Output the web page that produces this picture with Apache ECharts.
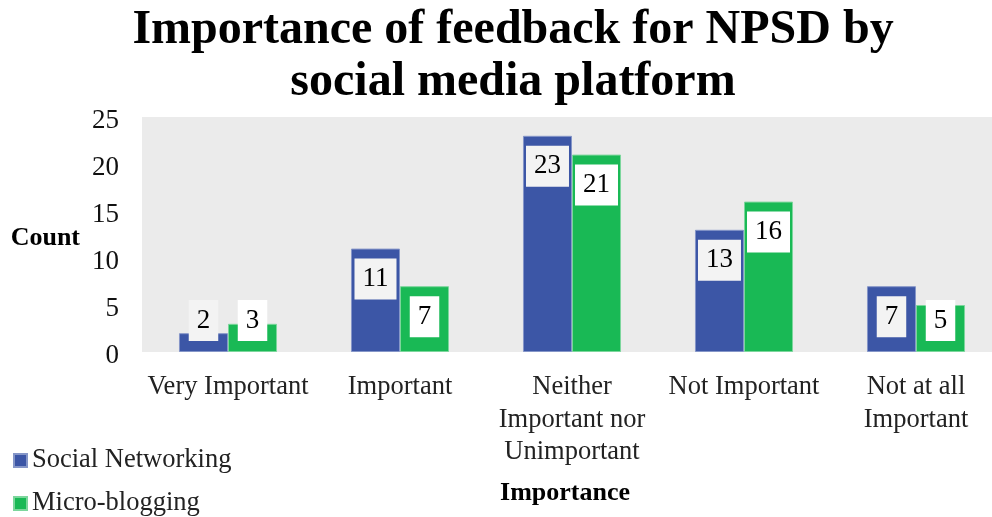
<!DOCTYPE html>
<html>
<head>
<meta charset="utf-8">
<script src="https://cdn.jsdelivr.net/npm/echarts@6/dist/echarts.min.js"></script>
<style>
  html, body { margin: 0; padding: 0; background: #fff; }
  #chart { width: 992px; height: 517px; }
</style>
</head>
<body>
<div id="chart"></div>
<script>
// Survey counts per importance level, split by platform type
const categories = [
  'Very Important',
  'Important',
  'Neither\nImportant nor\nUnimportant',
  'Not Important',
  'Not at all\nImportant'
];
const socialNetworking = [2, 11, 23, 13, 7];
const microBlogging = [3, 7, 21, 16, 5];
const yTicks = { min: 0, max: 25, interval: 5 };

const serif = '"Liberation Serif", "DejaVu Serif", serif';

// Keep value boxes inside the bar: 10px under the top, but never closer than 11px to the base
function placeLabel(params) {
  const r = params.rect;
  const h = params.labelRect.height;
  const top = Math.min(r.y + 10, r.y + r.height - 11 - h);
  return { x: r.x + r.width / 2, y: top + h / 2, align: 'center', verticalAlign: 'middle' };
}

function valueLabel(bg) {
  return {
    show: true,
    position: 'insideTop',
    fontFamily: serif,
    fontSize: 27,
    lineHeight: 27,
    color: '#000',
    backgroundColor: bg,
    padding: [7, 8, 7, 8]
  };
}

const chart = echarts.init(document.getElementById('chart'), null, { renderer: 'canvas' });
chart.setOption({
  animation: false,
  title: {
    text: 'Importance of feedback for NPSD by\nsocial media platform',
    left: 508,
    textAlign: 'center',
    top: 0,
    textStyle: {
      fontFamily: serif,
      fontWeight: 'bold',
      fontSize: 48,
      lineHeight: 52,
      color: '#000'
    }
  },
  legend: {
    orient: 'vertical',
    left: 8,
    top: 441,
    height: 76,
    itemWidth: 13,
    itemHeight: 13,
    itemGap: 14,
    icon: 'rect',
    textStyle: { fontFamily: serif, fontSize: 26.5, lineHeight: 29, color: '#222' },
    data: ['Social Networking', 'Micro-blogging']
  },
  grid: {
    left: 142,
    right: -10,
    top: 117,
    bottom: 165,
    show: true,
    backgroundColor: '#ebebeb',
    borderWidth: 0,
    containLabel: false,
    outerBoundsMode: 'none'
  },
  xAxis: {
    type: 'category',
    data: categories,
    name: 'Importance',
    nameLocation: 'middle',
    nameGap: 128,
    nameTextStyle: { fontFamily: serif, fontWeight: 'bold', fontSize: 26, color: '#000', padding: [0, 14, 0, 0] },
    axisLine: { show: false },
    axisTick: { show: false },
    axisLabel: {
      fontFamily: serif,
      fontSize: 26.5,
      lineHeight: 32.5,
      color: '#222',
      margin: 19,
      interval: 0
    }
  },
  yAxis: {
    type: 'value',
    min: yTicks.min,
    max: yTicks.max,
    interval: yTicks.interval,
    name: '{n|Count}',
    nameLocation: 'middle',
    nameRotate: 0,
    nameGap: 62,
    nameTextStyle: {
      rich: { n: { fontFamily: serif, fontWeight: 'bold', fontSize: 26, color: '#000', padding: [8, 0, 0, 0] } }
    },
    axisLine: { show: false },
    axisTick: { show: false },
    splitLine: { show: false },
    axisLabel: {
      margin: 23,
      formatter: '{v|{value}}',
      rich: { v: { fontFamily: serif, fontSize: 27, color: '#111', padding: [7, 0, 0, 0] } }
    }
  },
  series: [
    {
      name: 'Social Networking',
      type: 'bar',
      data: socialNetworking,
      barGap: '0%',
      barCategoryGap: '43%',
      itemStyle: { color: '#3c56a6', borderColor: '#8596c8', borderWidth: 1 },
      label: valueLabel('#f3f3f3'),
      labelLayout: placeLabel
    },
    {
      name: 'Micro-blogging',
      type: 'bar',
      data: microBlogging,
      barGap: '0%',
      barCategoryGap: '43%',
      itemStyle: { color: '#19b955', borderColor: '#7cd69c', borderWidth: 1 },
      label: valueLabel('#ffffff'),
      labelLayout: placeLabel
    }
  ]
});
</script>
</body>
</html>
